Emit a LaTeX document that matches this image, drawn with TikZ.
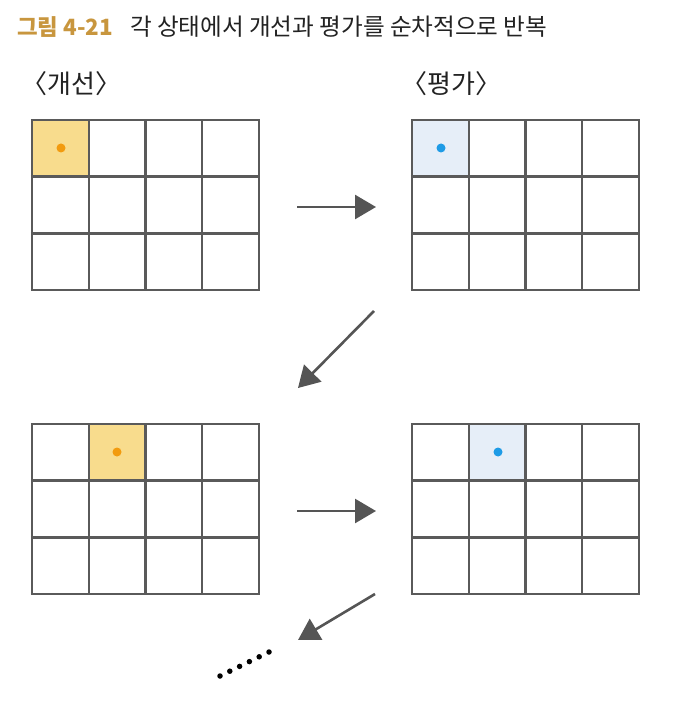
\documentclass[tikz,border=0pt]{standalone}
\usepackage{fontspec}
\setmainfont{Noto Sans CJK KR}
\newfontfamily\kr{Noto Sans CJK KR}
\usetikzlibrary{arrows.meta}
\definecolor{gridc}{HTML}{5A5A5A}
\definecolor{arrc}{HTML}{555555}
\definecolor{yel}{HTML}{F8DC8D}
\definecolor{orng}{HTML}{F29B0F}
\definecolor{lblue}{HTML}{E6EEF8}
\definecolor{dblue}{HTML}{1E9BE6}
\definecolor{gold}{HTML}{C8963E}
\definecolor{txt}{HTML}{222222}
\tikzset{
  gridline/.style={draw=gridc, line width=2.4pt},
  flowarrow/.style={draw=arrc, line width=2.6pt, -{Triangle[length=21pt,width=24pt]}},
  lbl/.style={anchor=west, inner sep=0pt, font=\kr\fontsize{26}{26}\selectfont, text=txt},
  celldot/.style={circle, inner sep=0pt, minimum size=9pt},
  ell/.style={circle, fill=black, inner sep=0pt, minimum size=5.5pt}
}
\begin{document}
\begin{tikzpicture}[x=1pt,y=-1pt]
\useasboundingbox (0,0) rectangle (678,708);
% title
\node[anchor=west, inner sep=0pt] (title) at (17,27) {\kr\textcolor{gold}{\fontsize{22.4}{22}\selectfont\bfseries 그림 4-21}\hspace{17pt}\textcolor{txt}{\fontsize{23.6}{23}\selectfont 각 상태에서 개선과 평가를 순차적으로 반복}};
% labels
\node[lbl] (l1) at (21,84) {〈개선〉};
\node[lbl] (l2) at (401,84) {〈평가〉};
% highlighted cells
\fill[yel] (32,120) rectangle (89,177);
\fill[lblue] (412,120) rectangle (469,177);
\fill[yel] (89,424) rectangle (146,481);
\fill[lblue] (469,424) rectangle (525,481);
% grids
\foreach \x/\y in {32/120, 412/120, 32/424, 412/424}{
  \foreach \i in {0,1,2,3,4}{
    \draw[gridline] ({\x+\i*56.75},\y) -- ({\x+\i*56.75},{\y+170});
  }
  \foreach \j in {0,1,2,3}{
    \draw[gridline] ({\x-1.2},{\y+\j*56.67}) -- ({\x+227+1.2},{\y+\j*56.67});
  }
}
% dots
\node[celldot, fill=orng] (d1) at (61,148) {};
\node[celldot, fill=dblue] (d2) at (441,148) {};
\node[celldot, fill=orng] (d3) at (117,452) {};
\node[celldot, fill=dblue] (d4) at (498,452) {};
% arrows
\coordinate (a1s) at (297,207); \coordinate (a1e) at (376,207);
\coordinate (a2s) at (374,311); \coordinate (a2e) at (298,388);
\coordinate (a3s) at (297,511); \coordinate (a3e) at (376,511);
\coordinate (a4s) at (375,594); \coordinate (a4e) at (298,640);
\draw[flowarrow] (a1s) -- (a1e);
\draw[flowarrow] (a2s) -- (a2e);
\draw[flowarrow] (a3s) -- (a3e);
\draw[flowarrow] (a4s) -- (a4e);
% ellipsis dots
\foreach \k in {0,...,5}{
  \node[ell] (e\k) at ({220+\k*9.8},{676-\k*4.8}) {};
}
\end{tikzpicture}
\end{document}
